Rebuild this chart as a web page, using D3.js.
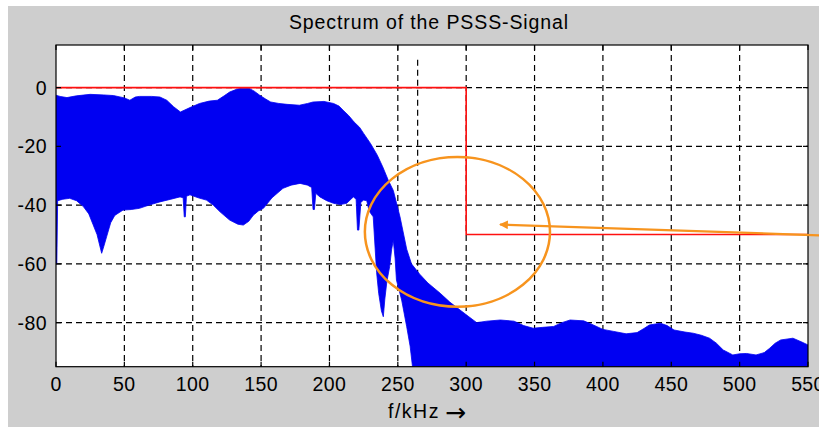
<!DOCTYPE html>
<html>
<head>
<meta charset="utf-8">
<script src="https://cdn.jsdelivr.net/npm/d3@7"></script>
<style>
  body { margin: 0; background: #fff; }
  svg text { font-family: "Liberation Sans", Arial, sans-serif; fill: #000; }
</style>
</head>
<body>
<div id="chart"></div>
<script>
"use strict";

// x axis ticks (kHz) and y axis ticks (dB)
var xTicks = [0, 50, 100, 150, 200, 250, 300, 350, 400, 450, 500, 550];
var yTicks = [0, -20, -40, -60, -80];

// upper envelope of the spectrum [f, dB]
var upperEnv = [
  [0,-2.6],[3,-3.0],[8,-3.4],[15,-2.8],[25,-2.3],[35,-2.5],[42,-2.7],[50,-3.5],[54,-4.3],
  [58,-3.2],[61,-3.0],[70,-3.0],[76,-3.2],[81,-4.3],[86,-6.5],[91,-8.3],[98,-6.8],[105,-5.4],
  [112,-4.6],[118,-4.3],[123,-2.8],[127,-1.5],[132,-0.6],[136,-0.2],[141,-0.2],[145,-1.2],
  [149,-2.6],[153,-3.8],[157,-4.9],[163,-5.4],[169,-5.7],[178,-6.0],[184,-5.4],[188,-4.9],
  [196,-4.7],[203,-5.4],[207,-6.3],[210,-7.7],[214,-9.5],[218,-11.7],[222,-13.5],[225,-15.6],
  [230,-19],[235,-23],[239,-27],[243,-31.5],[246.7,-35],[251.6,-44],[256.5,-55],[260,-60],
  [266,-63.5],[272,-66.5],[281,-70],[288,-73],[295.5,-75.7],[302,-78],[307.7,-80],[315,-79.5],
  [325,-79.1],[335,-79.5],[342,-81],[349,-81.9],[356,-81.6],[364,-81.3],[370,-80],[376,-79.1],
  [386,-79.4],[393,-80.8],[400,-82.3],[408,-83],[417,-83.8],[425,-83.4],[430,-82],[434,-80.8],
  [442,-80.2],[447,-81],[452,-82.5],[460,-83.2],[466,-83.6],[472,-84.3],[478,-85.3],[483,-87],
  [488,-89.3],[495,-91],[500,-90.6],[505,-90.5],[512,-91],[518,-90.2],[522,-88.7],[526,-87],
  [530,-85.9],[539,-85.3],[545,-86.5],[550,-87.6]
];

// lower envelope of the spectrum [f, dB]
var lowerEnv = [
  [0,-60],[0.6,-60],[1.2,-38.5],[5,-38],[10,-37.7],[15,-38.5],[20,-40.5],[24,-43],[27,-46.5],
  [30,-50],[33.4,-56.4],[35,-54],[37,-50.8],[40,-46],[43,-43.5],[49,-41.7],[55,-41.5],[61,-41.1],
  [68,-40],[76,-38.9],[84,-38],[90.7,-37.2],[93,-37.5],[93.8,-44],[94.6,-44],[95.4,-37],[98,-36.5],
  [104,-37.5],[110,-38.3],[115,-40],[120,-42.3],[127,-45.1],[133,-46.5],[137,-46.8],[141,-45.5],
  [144.4,-43.4],[148,-42],[151.7,-41.1],[158,-37.5],[166,-34.3],[172,-33.2],[178.5,-32.6],
  [184,-33.2],[187,-34],[188,-41.5],[189,-41.5],[190,-36],[193,-37.2],[198,-38.5],[203,-39.4],
  [208,-39.8],[212.6,-39.4],[217.5,-37.2],[219.5,-38],[220.5,-48.5],[221.5,-48.5],[223,-39],
  [225,-38.3],[227.3,-38.5],[229,-42],[232,-44],[234.5,-63],[236,-70],[238,-76],[239.4,-78],
  [240.5,-72],[242,-66],[244,-61],[245.5,-55],[246.7,-52],[248,-58],[249,-65.5],[252.8,-72.3],
  [256.5,-81.4],[259,-88],[262,-100],[550,-100]
];

// spectral mask (red)
var maskF  = [0, 300, 300, 550];
var maskDb = [0, 0, -50, -50];

// extra marker line
var markerF = 264.5, markerTop = 9.5;

// annotation: ellipse centre/radii and arrow (data units)
var ellipseC = [293.6, -49.1], ellipseR = [67.7, 25.5];
var arrowFrom = [572, -50.5], arrowTo = [324.7, -46.6];

var width = 819, height = 427;
var pL = 56, pR = 808, pT = 45, pB = 366.7;

var svg = d3.select("#chart").append("svg")
  .attr("width", width).attr("height", height);

svg.append("rect").attr("x", 8).attr("y", 6)
  .attr("width", width - 8).attr("height", height - 6)
  .attr("fill", "#cecece");

var x = d3.scaleLinear().domain([0, 550]).range([pL, pR]);
var y = d3.scaleLinear().domain([-95, 14.5]).range([pB, pT]);

svg.append("rect").attr("x", pL).attr("y", pT)
  .attr("width", pR - pL).attr("height", pB - pT)
  .attr("fill", "#fff");

var defs = svg.append("defs");
defs.append("clipPath").attr("id", "clip")
  .append("rect").attr("x", pL).attr("y", pT)
  .attr("width", pR - pL).attr("height", pB - pT);

var plot = svg.append("g").attr("clip-path", "url(#clip)");

// grid
var grid = plot.append("g").attr("stroke", "#000").attr("stroke-width", 1.2)
  .attr("stroke-dasharray", "6,4");
xTicks.slice(1, -1).forEach(function (t) {
  grid.append("line").attr("x1", x(t)).attr("x2", x(t))
    .attr("y1", pT).attr("y2", pB);
});
yTicks.forEach(function (t) {
  grid.append("line").attr("x1", pL).attr("x2", pR)
    .attr("y1", y(t)).attr("y2", y(t));
});
grid.append("line").attr("x1", x(markerF)).attr("x2", x(markerF))
  .attr("y1", y(markerTop)).attr("y2", pB);

// spectrum band
var band = upperEnv.concat(lowerEnv.slice().reverse());
var line = d3.line().x(function (d) { return x(d[0]); }).y(function (d) { return y(d[1]); });
plot.append("path").attr("d", line(band) + "Z")
  .attr("fill", "#0000f2").attr("stroke", "#0000f2").attr("stroke-width", 0.8);

// mask
plot.append("path")
  .attr("d", line(maskF.map(function (f, i) { return [f, maskDb[i]]; })))
  .attr("fill", "none").attr("stroke", "#ff1010").attr("stroke-width", 1.6);

// axes box + inward ticks
var axes = svg.append("g").attr("stroke", "#000").attr("stroke-width", 1.2);
axes.append("rect").attr("x", pL).attr("y", pT)
  .attr("width", pR - pL).attr("height", pB - pT).attr("fill", "none");
xTicks.forEach(function (t) {
  axes.append("line").attr("x1", x(t)).attr("x2", x(t)).attr("y1", pB).attr("y2", pB - 5);
  axes.append("line").attr("x1", x(t)).attr("x2", x(t)).attr("y1", pT).attr("y2", pT + 5);
});
yTicks.forEach(function (t) {
  axes.append("line").attr("x1", pL).attr("x2", pL + 5).attr("y1", y(t)).attr("y2", y(t));
  axes.append("line").attr("x1", pR).attr("x2", pR - 5).attr("y1", y(t)).attr("y2", y(t));
});

// tick labels
svg.append("g").selectAll("text").data(xTicks).join("text")
  .attr("x", function (d) { return x(d); }).attr("y", 391)
  .attr("text-anchor", "middle").style("font-size", "19.5px")
  .style("letter-spacing", "0.4px")
  .text(function (d) { return d; });
svg.append("g").selectAll("text").data(yTicks).join("text")
  .attr("x", 47).attr("y", function (d) { return y(d) + 7; })
  .attr("text-anchor", "end").style("font-size", "19.5px")
  .style("letter-spacing", "0.4px")
  .text(function (d) { return d; });

svg.append("text").attr("x", 429).attr("y", 29).attr("text-anchor", "middle")
  .style("font-size", "19.5px").style("letter-spacing", "0.9px")
  .text("Spectrum of the PSSS-Signal");

var xl = svg.append("text").attr("x", 388).attr("y", 418)
  .style("font-size", "19.5px").style("letter-spacing", "1.5px");
xl.append("tspan").text("f/kHz");
xl.append("tspan").attr("dx", 5).attr("dy", 3)
  .style("font-family", "'DejaVu Sans'").style("font-size", "25px")
  .style("letter-spacing", "0").text("\u2192");

// annotation
var orange = "#f7941e";
svg.append("ellipse")
  .attr("cx", x(ellipseC[0])).attr("cy", y(ellipseC[1]))
  .attr("rx", x(ellipseC[0] + ellipseR[0]) - x(ellipseC[0]))
  .attr("ry", y(ellipseC[1] - ellipseR[1]) - y(ellipseC[1]))
  .attr("fill", "none").attr("stroke", orange).attr("stroke-width", 2.5);

defs.append("marker").attr("id", "head")
  .attr("viewBox", "0 0 10 10").attr("refX", 9).attr("refY", 5)
  .attr("markerWidth", 5).attr("markerHeight", 4).attr("orient", "auto")
  .append("path").attr("d", "M0,0L10,5L0,10Z").attr("fill", orange);
svg.append("line")
  .attr("x1", x(arrowFrom[0])).attr("y1", y(arrowFrom[1]))
  .attr("x2", x(arrowTo[0])).attr("y2", y(arrowTo[1]))
  .attr("stroke", orange).attr("stroke-width", 2.2)
  .attr("marker-end", "url(#head)");
</script>
</body>
</html>
